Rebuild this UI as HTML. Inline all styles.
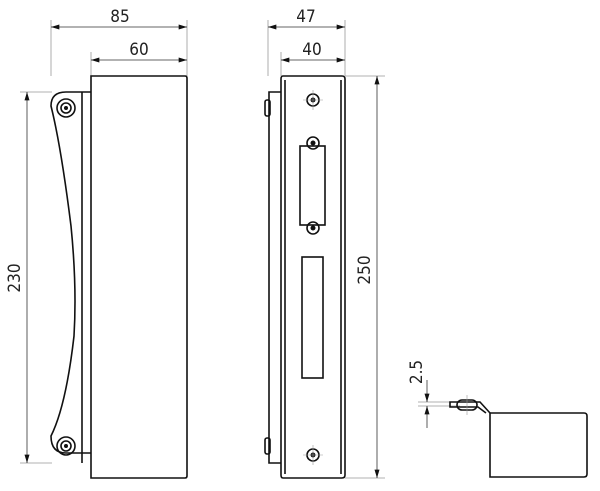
<!DOCTYPE html>
<html><head><style>body{margin:0;background:#fff}svg{display:block}text{font-family:"DejaVu Sans Condensed","Liberation Sans Narrow","Liberation Sans",sans-serif;font-size:17px;fill:#222}</style></head><body>
<svg width="600" height="491" viewBox="0 0 600 491" xmlns="http://www.w3.org/2000/svg">
<defs><marker id="a" viewBox="0 0 10 6" refX="10" refY="3" markerWidth="14" markerHeight="5" orient="auto-start-reverse" markerUnits="userSpaceOnUse"><path d="M0,0L10,3L0,6z" fill="#111"/></marker></defs>
<g stroke="#999" stroke-width="0.8" fill="none">
<line x1="51" y1="20" x2="51" y2="76"/><line x1="187" y1="20" x2="187" y2="76"/><line x1="91" y1="52" x2="91" y2="76"/>
<line x1="20" y1="92" x2="52" y2="92"/><line x1="20" y1="463" x2="52" y2="463"/>
<line x1="268" y1="20" x2="268" y2="76"/><line x1="345" y1="20" x2="345" y2="76"/><line x1="281" y1="52" x2="281" y2="76"/>
<line x1="345" y1="76" x2="385" y2="76"/><line x1="345" y1="478" x2="385" y2="478"/>
<line x1="418" y1="402" x2="460" y2="402"/><line x1="418" y1="406" x2="460" y2="406"/>
</g>
<g stroke="#333" stroke-width="0.8" marker-start="url(#a)" marker-end="url(#a)">
<line x1="51" y1="27" x2="187" y2="27"/><line x1="91" y1="60" x2="187" y2="60"/>
<line x1="27" y1="92" x2="27" y2="463"/>
<line x1="268" y1="27" x2="345" y2="27"/><line x1="281" y1="60" x2="345" y2="60"/>
<line x1="377" y1="76" x2="377" y2="478"/>
</g>
<g stroke="#333" stroke-width="0.8" fill="none"><line x1="427" y1="380" x2="427" y2="402" marker-end="url(#a)"/><line x1="427" y1="428" x2="427" y2="406" marker-end="url(#a)"/></g>
<text x="120" y="22" text-anchor="middle">85</text><text x="139" y="55" text-anchor="middle">60</text>
<text x="306" y="22" text-anchor="middle">47</text><text x="312" y="55" text-anchor="middle">40</text>
<text transform="translate(20,278) rotate(-90)" text-anchor="middle">230</text>
<text transform="translate(370,270) rotate(-90)" text-anchor="middle">250</text>
<text transform="translate(422,372) rotate(-90)" text-anchor="middle">2.5</text>
<g stroke="#111" stroke-width="1.6" fill="none">
<path d="M91,76H185q2,0 2,2V476q0,2-2,2H91z"/>
<path d="M91,92H66q-15,0-15,14q10,40 20,120q6,60 3,110q-8,70-23,100q0,17 15,17H91"/>
<line x1="82" y1="92" x2="82" y2="463"/>
<circle cx="66" cy="108" r="9"/><circle cx="66" cy="108" r="5"/>
<circle cx="66" cy="446" r="9"/><circle cx="66" cy="446" r="5"/>
<path d="M283,76H342q3,0 3,3V475q0,3-3,3H283q-2,0-2-3V79q0-3 2-3z"/>
<line x1="285" y1="80" x2="285" y2="474"/><line x1="341" y1="80" x2="341" y2="474"/>
<path d="M281,92H269V463H281"/>
<rect x="265" y="100" width="5" height="16" rx="2"/><rect x="265" y="438" width="5" height="16" rx="2"/>
<rect x="300" y="146" width="25" height="79"/>
<rect x="302" y="257" width="21" height="121"/>
<circle cx="313" cy="100" r="6"/><circle cx="313" cy="143" r="6"/><circle cx="313" cy="228" r="6"/><circle cx="313" cy="455" r="6"/>
<path d="M490,413H584q3,0 3,3V474q0,3-3,3H490z"/>
<path d="M490,413L480,402H450v5H478L486,413"/>
<rect x="457" y="400" width="20" height="10" rx="5"/>
</g>
<g fill="#111"><circle cx="66" cy="108" r="2"/><circle cx="66" cy="446" r="2"/><circle cx="313" cy="100" r="2.5"/><circle cx="313" cy="143" r="2.5"/><circle cx="313" cy="228" r="2.5"/><circle cx="313" cy="455" r="2.5"/></g>
<g stroke="#999" stroke-width="0.6"><line x1="303" y1="100" x2="323" y2="100"/><line x1="313" y1="90" x2="313" y2="110"/><line x1="303" y1="455" x2="323" y2="455"/><line x1="313" y1="445" x2="313" y2="465"/><line x1="467" y1="395" x2="467" y2="415"/></g>
</svg>
</body></html>
